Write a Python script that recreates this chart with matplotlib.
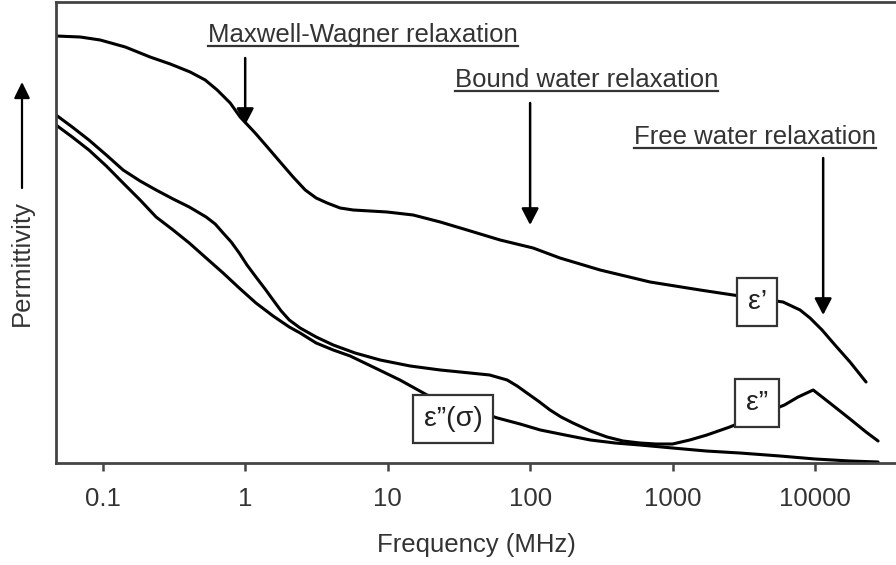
import matplotlib
matplotlib.use("Agg")
import matplotlib.pyplot as plt
from matplotlib.lines import Line2D
from matplotlib.patches import FancyArrowPatch

plt.rcParams['font.family'] = ['Liberation Sans', 'DejaVu Sans']

# ---- data (arbitrary permittivity units) ----
f_eps1 = [0.047, 0.0695, 0.096, 0.144, 0.215, 0.298, 0.411, 0.524, 0.636, 0.785, 0.922,
          1.175, 1.43, 1.76, 2.17, 2.64, 3.15, 3.76, 4.64, 5.73, 7.54, 9.9, 15.1, 23.4,
          36.1, 61.6, 105, 162, 310, 695, 1560, 2660, 5960, 7850, 9220, 11200, 13800,
          17600, 22800]
eps1 = [427, 426, 423, 416, 406, 399, 391, 383, 373, 360, 346,
        330, 316, 301, 286, 273, 265, 260, 255, 253, 252, 251, 248, 241,
        233, 223, 215, 205, 193, 181, 173, 168, 161, 153, 145, 133, 118,
        101, 81]

f_eps2 = [0.047, 0.0611, 0.080, 0.106, 0.139, 0.183, 0.237, 0.312, 0.405, 0.532, 0.616,
          0.700, 0.798, 0.908, 1.03, 1.19, 1.38, 1.57, 1.79, 2.04, 2.43, 3.15, 4.15,
          5.91, 8.86, 14.4, 23.4, 37.9, 52, 69, 81.1, 95, 114, 138, 165, 200, 265, 347,
          449, 590, 766, 1000, 1320, 1740, 2520, 6100, 7600, 9700, 12700, 17600,
          22800, 27700]
eps2 = [348, 336, 323, 308, 293, 282, 273, 264, 256, 246, 239,
        230, 221, 210, 198, 186, 174, 163, 152, 143, 135, 126, 118,
        110, 103, 97, 93, 90, 88, 83, 77, 70, 62, 53, 46, 40, 32, 26,
        22, 20, 19, 19, 23, 28, 36, 58, 66, 73, 60, 44,
        31, 22]

f_sigma = [0.047, 0.0611, 0.080, 0.106, 0.139, 0.183, 0.237, 0.312, 0.405, 0.532, 0.700,
           0.908, 1.19, 1.57, 2.04, 2.43, 3.15, 4.15, 5.46, 8.17, 12.2, 18.9, 59, 85,
           118, 176, 265, 395, 590, 1000, 1720, 2960, 5680, 10000, 17600, 27700]
eps_sigma = [338, 326, 313, 297, 280, 263, 246, 233, 220, 205, 190,
             175, 160, 147, 136, 130, 120, 113, 107, 95, 83, 68, 45, 39,
             33, 28, 23, 20, 18, 15, 12, 10, 7, 4, 2, 1]

xticks = [0.1, 1, 10, 100, 1000, 10000]
xtick_labels = ["0.1", "1", "10", "100", "1000", "10000"]

# annotations: text, text x, text y, arrow x, arrow start y, arrow end y
ann_text = ["Maxwell-Wagner relaxation", "Bound water relaxation", "Free water relaxation"]
ann_tx = [6.7, 249, 3810]
ann_ty = [428, 383, 326]
ann_ax = [1.0, 100, 11400]
ann_y0 = [405, 360, 305]
ann_y1 = [338, 238, 148]

box_text = ["ε’", "ε”", "ε”(σ)"]
box_x = [3920, 3920, 28.8]
box_y = [161, 60, 44]

# ---- figure ----
fig = plt.figure(figsize=(8.96, 5.65), dpi=100)
ax = fig.add_axes([56 / 896, 1 - 463 / 565, 1 - 56 / 896, (463 - 2) / 565])
ax.set_xscale('log')
ax.set_xlim(0.047, 37000)
ax.set_ylim(0, 461)

lw = 2.2
for fx, yy in [(f_eps1, eps1), (f_eps2, eps2), (f_sigma, eps_sigma)]:
    ax.plot(fx, yy, color='black', lw=lw, zorder=2, solid_joinstyle='round',
            solid_capstyle='round')

spine_c = '#444444'
for s in ['top', 'left', 'bottom']:
    ax.spines[s].set_color(spine_c)
    ax.spines[s].set_linewidth(2)
ax.spines['right'].set_visible(False)

ax.set_xticks(xticks)
ax.set_xticklabels(xtick_labels)
ax.minorticks_off()
ax.set_yticks([])
ax.tick_params(axis='x', direction='out', length=6, width=1.8, color=spine_c,
               labelsize=18.5, labelcolor='#333333', pad=11)
ax.set_xlabel("Frequency (MHz)", fontsize=18.5, color='#333333', labelpad=16)

fs = 18.5
texts = []
for t, tx, ty, axx, y0, y1 in zip(ann_text, ann_tx, ann_ty, ann_ax, ann_y0, ann_y1):
    txt = ax.text(tx, ty, t, ha='center', va='center', fontsize=fs, color='#333333')
    texts.append(txt)
    ax.annotate("", xy=(axx, y1), xytext=(axx, y0),
                arrowprops=dict(arrowstyle='-|>,head_length=1.0,head_width=0.52',
                                color='black', lw=1.8, shrinkA=0, shrinkB=0))

for t, bx, by in zip(box_text, box_x, box_y):
    ax.text(bx, by, t, ha='center', va='center', fontsize=20.5, color='#222222', zorder=5,
            bbox=dict(boxstyle='square,pad=0.38', facecolor='white', edgecolor='#333333', lw=1.6))

# y label with arrow
fig.text(22 / 896, 1 - 263 / 565, "Permittivity", rotation=90, ha='center', va='center',
         fontsize=fs, color='#333333')
fig.add_artist(FancyArrowPatch(
    (22 / 896, 1 - 188 / 565), (22 / 896, 1 - 82 / 565), transform=fig.transFigure,
    arrowstyle='-|>,head_length=6.5,head_width=3.2', color='black', lw=1.6,
    shrinkA=0, shrinkB=0, mutation_scale=1.5))

# underline annotation texts
fig.canvas.draw()
r = fig.canvas.get_renderer()
H = fig.bbox.height
W = fig.bbox.width
for txt in texts:
    bb = txt.get_window_extent(r)
    yb = bb.y0 + 1
    fig.add_artist(Line2D([bb.x0 / W, bb.x1 / W], [yb / H, yb / H], transform=fig.transFigure,
                          color='#333333', lw=1.6))

fig.savefig("out.png", dpi=100)
